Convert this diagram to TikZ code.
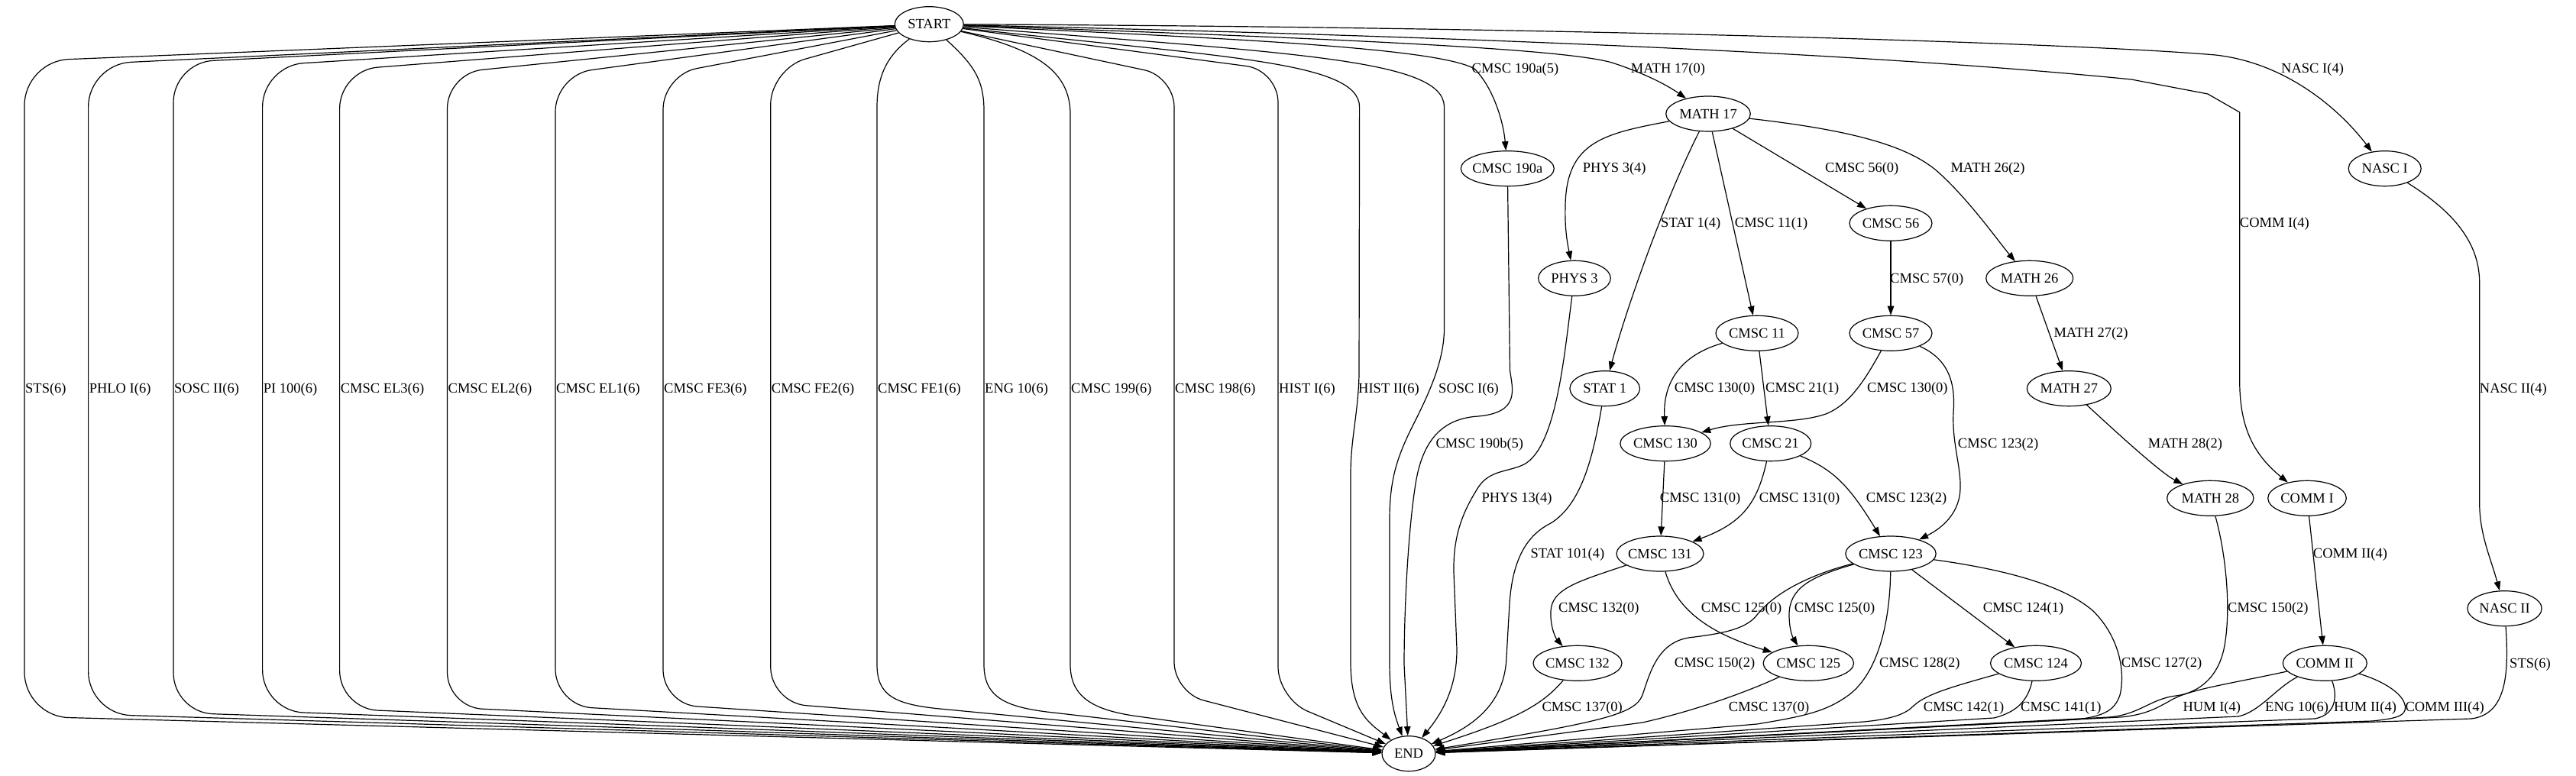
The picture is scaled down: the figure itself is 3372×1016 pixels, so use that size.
\documentclass[tikz,border=0pt]{standalone}
\usepackage{fontspec}
\setmainfont{Liberation Serif}
\usetikzlibrary{arrows.meta,shapes.geometric}
\newcommand\gnode[4]{\node[nd, minimum width=#3pt] (#1) at (#2) {\makebox[0pt]{#4}};}
\newcommand\glab[3]{\node[elab] (#1) at (#2) {#3};}
\newcommand\thru[6]{%
  \draw[conn, rounded corners=#5pt] (START) -- (#2,#3) -- (#2,#4) -- (END);
  \node[elab] (#1) at (#2+1,510) {#6};}
\begin{document}
\begin{tikzpicture}[x=1pt,y=-1pt,
  every node/.style={font=\fontsize{18.5pt}{22pt}\selectfont},
  nd/.style={ellipse, draw, line width=1.2pt, inner sep=0pt, minimum height=46pt},
  conn/.style={draw, line width=1.2pt, -{Triangle[length=12pt,width=8.5pt]}},
  elab/.style={inner sep=0pt, anchor=west}]
\useasboundingbox (0,0) rectangle (3372,1016);

% nodes
\gnode{START}{1216.3,31.7}{90}{START}
\gnode{END}{1844,986.7}{70}{END}
\gnode{c190a}{1973.3,220.7}{122}{CMSC 190a}
\gnode{m17}{2236,149}{110.6}{MATH 17}
\gnode{nascI}{3121.7,220.7}{95}{NASC I}
\gnode{phys3}{2061,364.3}{94.6}{PHYS 3}
\gnode{c56}{2475,292.3}{108}{CMSC 56}
\gnode{m26}{2656.7,364.3}{114}{MATH 26}
\gnode{c11}{2300,436.3}{108}{CMSC 11}
\gnode{c57}{2475,436.3}{108}{CMSC 57}
\gnode{stat1}{2100.7,508.7}{91.6}{STAT 1}
\gnode{m27}{2708.3,508.7}{110}{MATH 27}
\gnode{c130}{2180,580.7}{118.4}{CMSC 130}
\gnode{c21}{2317.7,580.7}{106}{CMSC 21}
\gnode{m28}{2893.3,652.3}{113.4}{MATH 28}
\gnode{commI}{3020,652.3}{102.6}{COMM I}
\gnode{c131}{2173,725}{114}{CMSC 131}
\gnode{c123}{2475,725}{118.4}{CMSC 123}
\gnode{nascII}{3278.5,796.7}{97.2}{NASC II}
\gnode{c132}{2065,868.3}{116}{CMSC 132}
\gnode{c125}{2367.3,868.3}{118.4}{CMSC 125}
\gnode{c124}{2665,868.3}{119}{CMSC 124}
\gnode{commII}{3043.3,868.3}{110}{COMM II}

% START -> END direct edges (left side)
\thru{t1}{32}{80}{938}{58}{STS(6)}
\thru{t2}{115.6}{84}{935}{56}{PHLO I(6)}
\thru{t3}{227}{82}{933}{52}{SOSC II(6)}
\thru{t4}{343.6}{86}{931}{54}{PI 100(6)}
\thru{t5}{444.6}{92}{928}{50}{CMSC EL3(6)}
\thru{t6}{585.5}{96}{926}{46}{CMSC EL2(6)}
\thru{t7}{727}{98}{924}{48}{CMSC EL1(6)}
\thru{t8}{868}{98}{922}{45}{CMSC FE3(6)}
\thru{t9}{1008.7}{90}{920}{47}{CMSC FE2(6)}

% START -> END direct edges (near and right side)
\draw[conn] (START) .. controls (1165,70) and (1148,95) .. (1148,140) -- (1148,870)
  .. controls (1148,910) and (1170,922) .. (1230,928) -- (END);
\glab{t10}{1149,510}{CMSC FE1(6)}
\draw[conn] (START) .. controls (1275,85) and (1288,105) .. (1288,145) -- (1288,870)
  .. controls (1288,912) and (1315,925) .. (1370,932) -- (END);
\glab{t11}{1289,510}{ENG 10(6)}
\draw[conn] (START) .. controls (1360,65) and (1401,95) .. (1401,150) -- (1401,870)
  .. controls (1401,912) and (1430,930) .. (1490,938) -- (END);
\glab{t12}{1402,510}{CMSC 199(6)}
\draw[conn, rounded corners=40pt] (START) -- (1537,100) -- (1537,907) -- (END);
\glab{t13}{1538,510}{CMSC 198(6)}
\draw[conn, rounded corners=42pt] (START) -- (1673,92) -- (1673,915) -- (END);
\glab{t14}{1674,510}{HIST I(6)}
\draw[conn] (START) .. controls (1600,75) and (1779,80) .. (1779.6,140) -- (1779,490)
  .. controls (1778,540) and (1768,575) .. (1768,620) -- (1768,867)
  .. controls (1768,930) and (1790,945) .. (END);
\glab{t15}{1778,510}{HIST II(6)}
\draw[conn] (START) .. controls (1700,70) and (1890,78) .. (1890.5,140) -- (1890.5,430)
  .. controls (1890.5,475) and (1868,520) .. (1848,560)
  .. controls (1828,600) and (1819,630) .. (1819,680) -- (1819,867)
  .. controls (1819,915) and (1825,935) .. (END);
\glab{t16}{1883,510}{SOSC I(6)}

% START -> others
\draw[conn] (START) .. controls (1600,50) and (1880,62) .. (1930,90)
  .. controls (1955,115) and (1968,160) .. (c190a);
\glab{e1}{1926.5,90.7}{CMSC 190a(5)}
\draw[conn] (START) .. controls (1800,52) and (2050,65) .. (2110,82)
  .. controls (2150,95) and (2180,110) .. (m17);
\glab{e2}{2134.7,90.7}{MATH 17(0)}
\draw[conn] (START) .. controls (1800,45) and (2400,65) .. (2790,104) -- (2890,123)
  -- (2931.7,147) -- (2931.7,500) .. controls (2932,560) and (2950,595) .. (commI);
\glab{e3}{2931.7,293.3}{COMM I(4)}
\draw[conn] (START) .. controls (2000,35) and (2700,55) .. (2900,72)
  .. controls (2990,82) and (3060,140) .. (nascI);
\glab{e4}{2986,90.7}{NASC I(4)}

% CMSC 190a -> END
\draw[conn] (c190a) -- (1976.5,485) .. controls (1980,510) and (1990,540) .. (1935,545)
  .. controls (1885,548) and (1860,580) .. (1852,640)
  .. controls (1843,700) and (1838,800) .. (1838,870) -- (END);
\glab{e5}{1879.3,581.7}{CMSC 190b(5)}

% MATH 17 out
\draw[conn] (m17) .. controls (2100,175) and (2050,185) .. (2049,270)
  .. controls (2048,300) and (2052,320) .. (phys3);
\glab{e6}{2071.7,220.7}{PHYS 3(4)}
\draw[conn] (m17) .. controls (2180,260) and (2130,400) .. (stat1);
\glab{e7}{2174,293.3}{STAT 1(4)}
\draw[conn] (m17) -- (c11);
\glab{e8}{2270.7,293.3}{CMSC 11(1)}
\draw[conn] (m17) -- (c56);
\glab{e9}{2389,221}{CMSC 56(0)}
\draw[conn] (m17) .. controls (2420,170) and (2500,190) .. (2540,228)
  .. controls (2580,265) and (2615,315) .. (m26);
\glab{e10}{2553.3,221}{MATH 26(2)}

% PHYS 3 -> END
\draw[conn] (phys3) .. controls (2048,460) and (2038,585) .. (1995,608)
  .. controls (1975,618) and (1950,615) .. (1935,638)
  .. controls (1915,670) and (1902,700) .. (1903,750) -- (1907,850)
  .. controls (1907,890) and (1895,925) .. (END);
\glab{e11}{1939.3,653.3}{PHYS 13(4)}

% STAT 1 -> END
\draw[conn] (stat1) .. controls (2085,600) and (2070,660) .. (2030,685)
  .. controls (2000,700) and (1980,730) .. (1976,790) -- (1972,860)
  .. controls (1970,920) and (1930,950) .. (END);
\glab{e12}{2003.3,725.7}{STAT 101(4)}

% CMSC 11 out
\draw[conn] (c11) .. controls (2200,465) and (2177,500) .. (c130);
\glab{e13}{2191.7,509}{CMSC 130(0)}
\draw[conn] (c11) -- (c21);
\glab{e14}{2311,509}{CMSC 21(1)}

% CMSC 56 -> 57
\draw[conn] (c56) -- (c57);
\glab{e15}{2474,365.7}{CMSC 57(0)}

% CMSC 57 out
\draw[conn] (c57) .. controls (2440,500) and (2420,530) .. (2390,542)
  .. controls (2350,556) and (2280,550) .. (c130);
\glab{e16}{2444,509.3}{CMSC 130(0)}
\draw[conn] (c57) .. controls (2550,470) and (2560,500) .. (2557,540)
  .. controls (2555,580) and (2567,610) .. (2566,640)
  .. controls (2565,670) and (2545,690) .. (c123);
\glab{e17}{2562.7,581.7}{CMSC 123(2)}

% MATH chain
\draw[conn] (m26) -- (m27);
\glab{e18}{2688.3,436.7}{MATH 27(2)}
\draw[conn] (m27) .. controls (2780,575) and (2830,620) .. (m28);
\glab{e19}{2811.7,581.7}{MATH 28(2)}
\draw[conn] (m28) .. controls (2915,730) and (2920,800) .. (2912,845)
  .. controls (2905,885) and (2880,907) .. (2848,911)
  .. controls (2815,915) and (2800,936) .. (2760,939) -- (END);
\glab{e20}{2916,797.3}{CMSC 150(2)}

% NASC chain
\draw[conn] (nascI) .. controls (3200,270) and (3245.7,310) .. (3245.7,370) -- (3245.7,660)
  .. controls (3246,700) and (3260,730) .. (nascII);
\glab{e21}{3245.7,510}{NASC II(4)}
\draw[conn] (nascII) .. controls (3284,880) and (3282,935) .. (3235,941) -- (END);
\glab{e22}{3285,870}{STS(6)}

% COMM chain
\draw[conn] (commI) -- (commII);
\glab{e23}{3027.7,725.7}{COMM II(4)}
\draw[conn] (commII) .. controls (2920,895) and (2870,902) .. (2845,915)
  .. controls (2825,926) and (2810,936) .. (2775,939) -- (END);
\glab{e24}{2857.3,927.3}{HUM I(4)}
\draw[conn] (commII) .. controls (2980,900) and (2958,932) .. (2930,938) -- (END);
\glab{e25}{2965,927.3}{ENG 10(6)}
\draw[conn] (commII) .. controls (3058,905) and (3062,935) .. (3030,941) -- (END);
\glab{e26}{3055,927.3}{HUM II(4)}
\draw[conn] (commII) .. controls (3130,895) and (3152,915) .. (3148,930)
  .. controls (3145,938) and (3135,941) .. (3105,944) -- (END);
\glab{e27}{3148.3,927.3}{COMM III(4)}

% CMSC 130 / 21 -> 131 / 123
\draw[conn] (c130) -- (c131);
\glab{e28}{2172.7,653.3}{CMSC 131(0)}
\draw[conn] (c21) .. controls (2300,660) and (2280,685) .. (c131);
\glab{e29}{2302.7,653.3}{CMSC 131(0)}
\draw[conn] (c21) .. controls (2400,615) and (2420,635) .. (c123);
\glab{e30}{2442.7,653.3}{CMSC 123(2)}

% CMSC 131 out
\draw[conn] (c131) .. controls (2070,760) and (2031,770) .. (2030,800)
  .. controls (2029,820) and (2036,835) .. (c132);
\glab{e31}{2040,796.7}{CMSC 132(0)}
\draw[conn] (c131) .. controls (2195,800) and (2240,830) .. (c125);
\glab{e32}{2226.7,797.3}{CMSC 125(0)}

% CMSC 123 out
\draw[conn] (c123) .. controls (2370,755) and (2342,770) .. (2342,805)
  .. controls (2342,825) and (2347,835) .. (c125);
\glab{e33}{2348.7,797.3}{CMSC 125(0)}
\draw[conn] (c123) -- (c124);
\glab{e34}{2595.7,797.3}{CMSC 124(1)}
\draw[conn] (c123) .. controls (2360,755) and (2320,780) .. (2300,805)
  .. controls (2285,825) and (2250,830) .. (2210,835)
  .. controls (2170,842) and (2160,880) .. (2150,910)
  .. controls (2140,935) and (2100,945) .. (END);
\glab{e35}{2191.7,869}{CMSC 150(2)}
\draw[conn] (c123) .. controls (2474,810) and (2460,880) .. (2420,910)
  .. controls (2390,932) and (2360,938) .. (2300,948) -- (END);
\glab{e36}{2460,869}{CMSC 128(2)}
\draw[conn] (c123) .. controls (2620,745) and (2700,765) .. (2740,800)
  .. controls (2775,835) and (2782,880) .. (2775,910)
  .. controls (2768,930) and (2755,937) .. (2720,942) -- (END);
\glab{e37}{2776.7,869}{CMSC 127(2)}

% bottom row -> END
\draw[conn] (c132) .. controls (2020,922) and (1985,942) .. (END);
\glab{e38}{2018.3,926.7}{CMSC 137(0)}
\draw[conn] (c125) .. controls (2300,900) and (2230,928) .. (2150,946) -- (END);
\glab{e39}{2262.7,927.3}{CMSC 137(0)}
\draw[conn] (c124) .. controls (2560,898) and (2522,908) .. (2505,924)
  .. controls (2495,934) and (2480,941) .. (2440,945) -- (END);
\glab{e40}{2517.7,927.3}{CMSC 142(1)}
\draw[conn] (c124) .. controls (2655,915) and (2642,932) .. (2610,940) -- (END);
\glab{e41}{2645,927.3}{CMSC 141(1)}
\end{tikzpicture}
\end{document}
